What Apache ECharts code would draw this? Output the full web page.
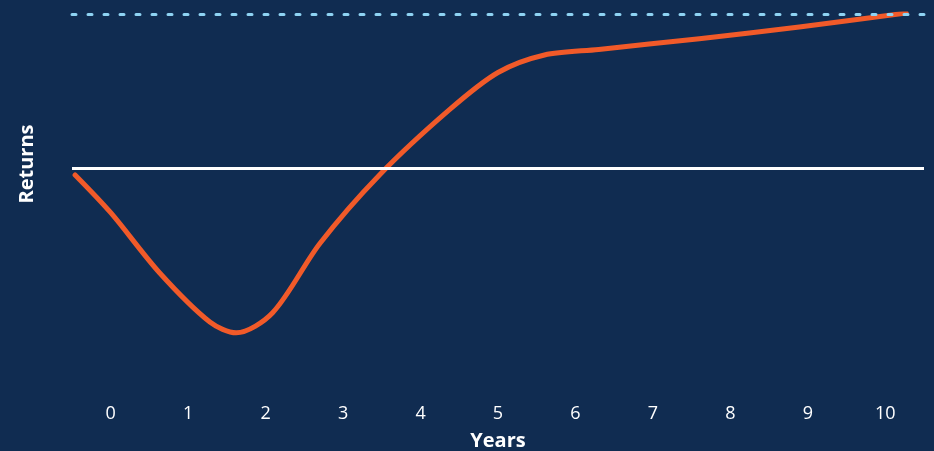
<!DOCTYPE html>
<html>
<head>
<meta charset="utf-8">
<script src="https://cdn.jsdelivr.net/npm/echarts@6/dist/echarts.min.js"></script>
<style>
  html, body { margin: 0; padding: 0; background: #102c51; }
  #chart { width: 934px; height: 451px; }
</style>
</head>
<body>
<div id="chart"></div>
<script>
// tick labels along the bottom
const years = ['0', '1', '2', '3', '4', '5', '6', '7', '8', '9', '10'];

// returns curve (x in years, y in arbitrary return units)
const curveX = [-0.46, 0, 0.63, 1.28, 1.62, 2.09, 2.7, 3.47, 4.37, 5.0, 5.6, 6.3, 7.6, 8.89, 10.27];
const curveY = [-4.5, -29, -68, -100, -107, -94, -49, -4.5, 37.7, 62, 73.4, 77, 84, 91.6, 100.6];

// reference levels
const zeroLevel = 0;
const targetLevel = 100;

const chart = echarts.init(document.getElementById('chart'), null, { renderer: 'canvas' });

chart.setOption({
  backgroundColor: '#102c51',
  animation: false,
  textStyle: { fontFamily: '"Open Sans", sans-serif' },
  grid: { left: 72, right: 10, top: 14, bottom: 52, containLabel: false, outerBoundsMode: 'none' },
  xAxis: [
    {
      type: 'value',
      min: -0.5,
      max: 10.5,
      show: false,
    },
    {
      type: 'category',
      data: years,
      boundaryGap: true,
      position: 'bottom',
      axisLine: { show: false },
      axisTick: { show: false },
      splitLine: { show: false },
      axisLabel: { color: '#ffffff', fontSize: 18, margin: 6 },
      name: 'Years',
      nameLocation: 'middle',
      nameGap: 32,
      nameTextStyle: { color: '#ffffff', fontSize: 20, fontWeight: 'bold' },
    },
  ],
  yAxis: {
    type: 'value',
    min: -150,
    max: 100,
    show: false,
  },
  graphic: [
    {
      type: 'text',
      x: 27,
      y: 164,
      rotation: Math.PI / 2,
      style: {
        text: 'Returns',
        fill: '#ffffff',
        font: 'bold 20px "Open Sans", sans-serif',
        align: 'center',
        verticalAlign: 'middle',
      },
    },
  ],
  series: [
    {
      type: 'line',
      xAxisIndex: 0,
      data: curveX.map((x, i) => [x, curveY[i]]),
      smooth: 0.3,
      symbol: 'none',
      z: 3,
      lineStyle: { color: '#f15a29', width: 5, cap: 'round', join: 'round' },
      markLine: {
        silent: true,
        symbol: 'none',
        label: { show: false },
        data: [
          {
            yAxis: zeroLevel,
            lineStyle: { color: '#ffffff', width: 3, type: 'solid' },
          },
          {
            yAxis: targetLevel,
            lineStyle: { color: '#8ed3f3', width: 3, type: [4, 12], cap: 'round' },
          },
        ],
      },
    },
  ],
});
</script>
</body>
</html>
